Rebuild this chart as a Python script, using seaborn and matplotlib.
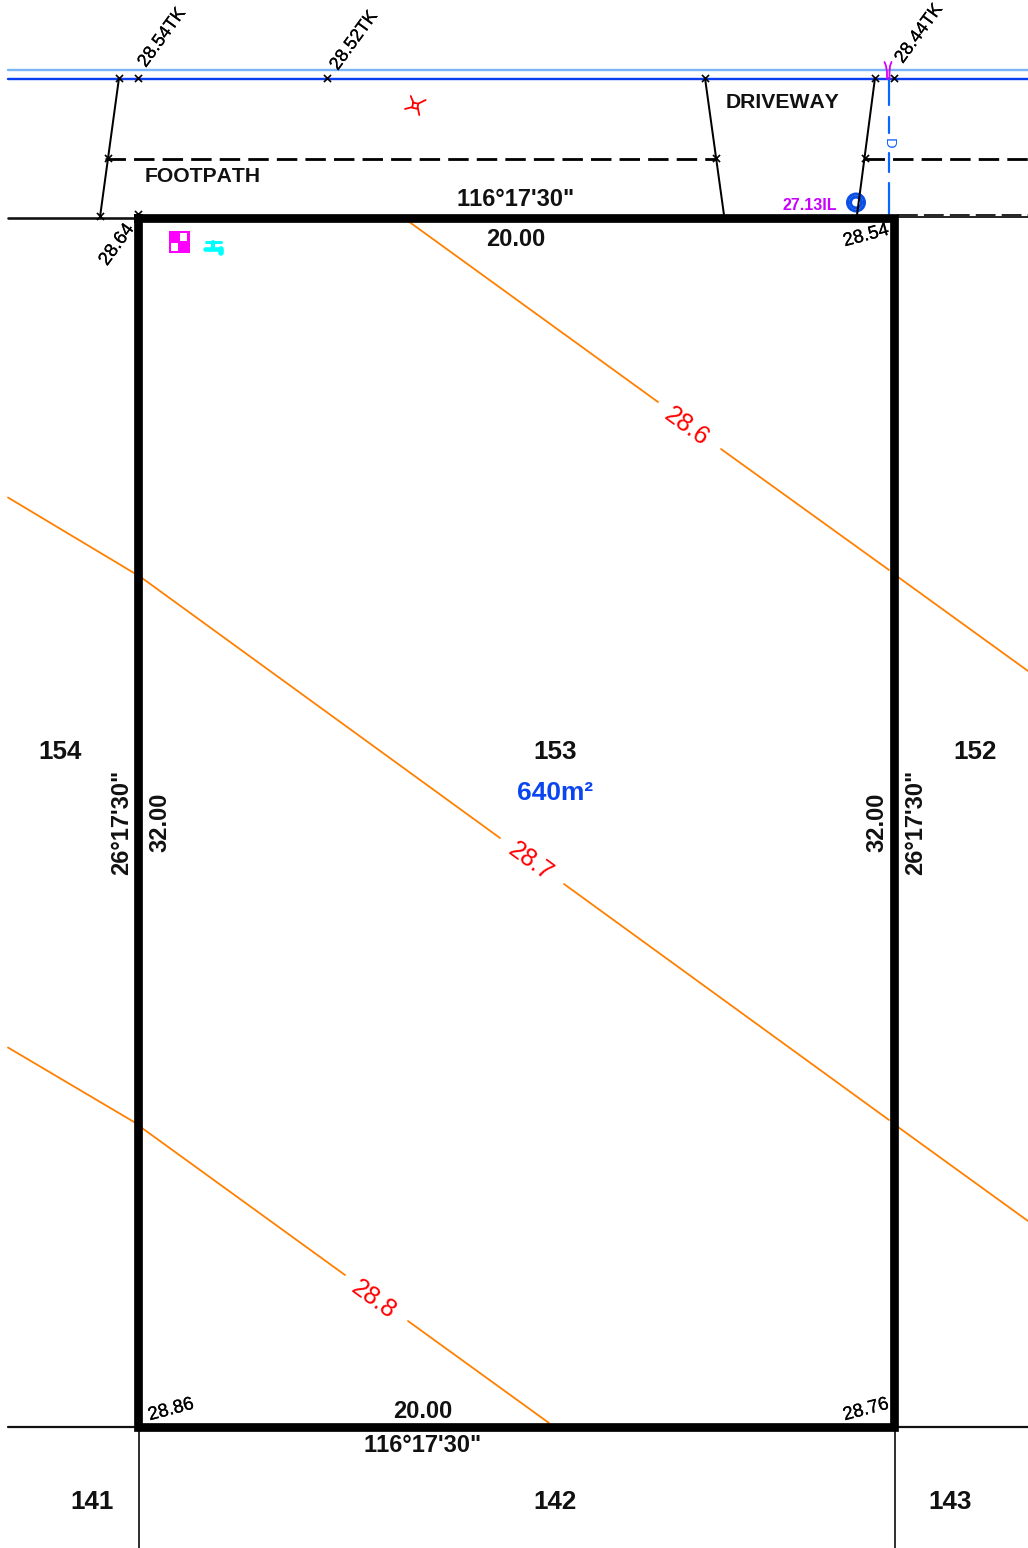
import matplotlib
matplotlib.use("Agg")
import matplotlib.pyplot as plt
import matplotlib.patheffects as pe
import seaborn as sns
from matplotlib.patches import Circle, Rectangle

sns.set_theme(style="white")
plt.rcParams["font.family"] = ["Liberation Sans", "DejaVu Sans"]
plt.rcParams["text.kerning_factor"] = 6

# ---- plan geometry (image pixel units) ----
lot_x = [138.3, 894.3, 894.3, 138.3, 138.3]
lot_y = [217.5, 217.5, 1427, 1427, 217.5]

water_light_x, water_light_y = [8, 1028], [70, 70]
water_dark_x, water_dark_y = [8, 1028], [78.5, 78.5]

boundary_segments = [
    ([8, 135], [217.5, 217.5], 2.6),
    ([8, 135], [1427, 1427], 2.2),
    ([897, 1028], [1427, 1427], 2.2),
    ([897, 1028], [217, 217], 1.8),
    ([138.5, 138.5], [1431, 1548], 1.7),
    ([894.5, 894.5], [1431, 1548], 1.7),
]
driveway_segments = [
    ([119, 100], [78, 217]),
    ([705, 724], [78, 215]),
    ([875, 857], [78, 215]),
]
footpath_segments = [
    ([104.5, 716], [158.5, 158.5]),
    ([864, 1028], [158.5, 158.5]),
]
kerb_x, kerb_y = [898, 1028], [215, 215]

contour_segments = [
    ([408, 658], [221, 402]),
    ([721, 889], [449, 570]),
    ([898, 1028], [577, 671]),
    ([8, 134], [497.5, 573]),
    ([142, 500], [578, 838]),
    ([564, 889], [884, 1120]),
    ([898, 1028], [1127, 1221]),
    ([8, 134], [1047.5, 1122]),
    ([142, 345], [1128, 1275]),
    ([408, 549], [1321, 1423]),
]
contour_labels = ["28.6", "28.7", "28.8"]
contour_label_x = [687, 531, 374]
contour_label_y = [427, 862, 1300]

survey_x = [119, 138, 327, 705, 875, 894, 108, 716, 865, 100, 138]
survey_y = [78, 78, 78, 78, 78, 78, 158, 158, 158, 216, 214]

sewer_segments = [
    ([888.5, 888.5], [78, 105]),
    ([888.5, 888.5], [117, 133]),
    ([888.5, 888.5], [153, 172]),
    ([888.5, 888.5], [183, 214]),
]
bracket_segments = [
    ([884.5, 886, 887, 887], [62, 66, 72, 79]),
    ([891.5, 890, 889.5, 889.5], [62, 66, 72, 79]),
    ([886, 890], [222, 216]),
]
tap_segments = [
    ([206, 221], [242, 242], 3.0),
    ([213, 213], [242, 249], 4.0),
    ([205, 220], [248.5, 248.5], 4.6),
    ([220.5, 220.5], [249, 252.5], 5.6),
]
valve_segments = [
    ([410.7, 413.6], [96, 103]),
    ([417.8, 419.3], [108, 115]),
    ([425.7, 418.5], [100, 103.5]),
    ([412.5, 405], [107, 109]),
    ([413.2, 418.3, 417.3, 412.2, 413.2], [102.6, 103.7, 108.8, 107.7, 102.6]),
]
manhole_x, manhole_y = 856, 202.5
box_x, box_y, box_w, box_h = 169, 231, 20.5, 22
box_holes = [(180, 233, 7, 8), (171, 243, 7, 8)]

bold_labels = ["153", "154", "152", "141", "142", "143", "20.00", "20.00",
               "116°17'30\"", "116°17'30\""]
bold_x = [555, 60, 975, 92, 555, 950, 516, 423, 516, 423]
bold_y = [752, 752, 752, 1502, 1502, 1502, 240, 1411, 200, 1446]
bold_sizes = [18.7, 18.7, 18.7, 18.7, 18.7, 18.7, 17, 17, 17, 17]

side_labels = ["26°17'30\"", "32.00", "32.00", "26°17'30\""]
side_x = [122, 160, 877, 916]
side_y = [822, 822, 822, 822]

level_labels = ["28.54TK", "28.52TK", "28.44TK", "28.64", "28.54", "28.86", "28.76"]
level_x = [162, 354, 919, 117, 866, 171, 866]
level_y = [38, 41, 34, 245, 236, 1410, 1410]
level_rot = [54, 54, 54, 54, 15, 15, 15]
level_sizes = [13, 13, 13, 13.4, 13.4, 13.4, 13.4]

road_labels = ["FOOTPATH", "DRIVEWAY"]
road_x = [203, 782]
road_y = [177, 103]

area_label = "640m²"
invert_label = "27.13IL"

# ---- drawing ----
PX = 0.72
fig = plt.figure(figsize=(10.28, 15.48), dpi=100, facecolor="white")
ax = fig.add_axes([0, 0, 1, 1])


def draw(x, y, color, px, **kw):
    sns.lineplot(x=x, y=y, sort=False, estimator=None, errorbar=None,
                 color=color, linewidth=px * PX, legend=False, ax=ax, **kw)


draw(water_light_x, water_light_y, "#7ab6f5", 2.4)
draw(water_dark_x, water_dark_y, "#0a3cf0", 2.4)

for xs, ys, w in boundary_segments:
    draw(xs, ys, "#111111", w)
draw(kerb_x, kerb_y, "#111111", 1.8, linestyle=(0, (11, 3.4)))

draw(*driveway_segments[0], "black", 2.0)
draw(*driveway_segments[1], "black", 2.0)
for xs, ys in footpath_segments:
    draw(xs, ys, "black", 2.8, linestyle=(0, (7.3, 2.9)))

for xs, ys in contour_segments:
    draw(xs, ys, "#ff8000", 1.8)
for t, x, y in zip(contour_labels, contour_label_x, contour_label_y):
    ax.text(x, y, t, color="#ff0000", fontsize=18, rotation=-36,
            rotation_mode="anchor", ha="center", va="center")

for xs, ys in sewer_segments:
    draw(xs, ys, "#0a64ff", 2.2)
ax.text(889, 143, "D", color="#0a64ff", fontsize=10.5, rotation=-90,
        rotation_mode="anchor", ha="center", va="center")
for xs, ys in bracket_segments:
    draw(xs, ys, "#d400ff", 1.8)

draw(lot_x, lot_y, "black", 8.7, solid_joinstyle="miter", solid_capstyle="projecting")

sns.scatterplot(x=survey_x, y=survey_y, marker="x", s=26, color="black",
                linewidth=1.2, legend=False, ax=ax, zorder=5)

for xs, ys in valve_segments:
    draw(xs, ys, "#ff0000", 1.8)
for xs, ys, w in tap_segments:
    draw(xs, ys, "#00ffff", w, solid_capstyle="round")

ax.add_patch(Rectangle((box_x, box_y), box_w, box_h, facecolor="#ff00ff", edgecolor="none", zorder=4))
for hx, hy, hw, hh in box_holes:
    ax.add_patch(Rectangle((hx, hy), hw, hh, facecolor="white", edgecolor="none", zorder=5))
ax.add_patch(Circle((manhole_x, manhole_y), 8.5, fill=False, edgecolor="#0a50e6", linewidth=3 * PX, zorder=3))
ax.add_patch(Circle((manhole_x, manhole_y), 5.5, fill=False, edgecolor="#0a50e6", linewidth=3.2 * PX, zorder=3))
draw(*driveway_segments[2], "black", 2.0, zorder=4)

for t, x, y, s in zip(bold_labels, bold_x, bold_y, bold_sizes):
    ax.text(x, y, t, color="#111111", fontsize=s, fontweight="bold", ha="center", va="center")
for t, x, y in zip(side_labels, side_x, side_y):
    ax.text(x, y, t, color="#111111", fontsize=17, fontweight="bold", rotation=90,
            ha="center", va="center")
stroke = [pe.withStroke(linewidth=0.15, foreground="black")]
for t, x, y, r, s in zip(level_labels, level_x, level_y, level_rot, level_sizes):
    ax.text(x, y, t, color="black", fontsize=s, rotation=r, path_effects=stroke,
            rotation_mode="anchor", ha="center", va="center")
for t, x, y in zip(road_labels, road_x, road_y):
    ax.text(x, y, t, color="#111111", fontsize=15.2, fontweight="bold", ha="center", va="center")
ax.text(555, 793, area_label, color="#0a46f0", fontsize=19, fontweight="bold", ha="center", va="center")
ax.text(810, 205, invert_label, color="#c800ff", fontsize=11.5, fontweight="bold", ha="center", va="center")

ax.set_xlim(0, 1028)
ax.set_ylim(1548, 0)
ax.axis("off")
fig.savefig("out.png", dpi=100, facecolor="white")
